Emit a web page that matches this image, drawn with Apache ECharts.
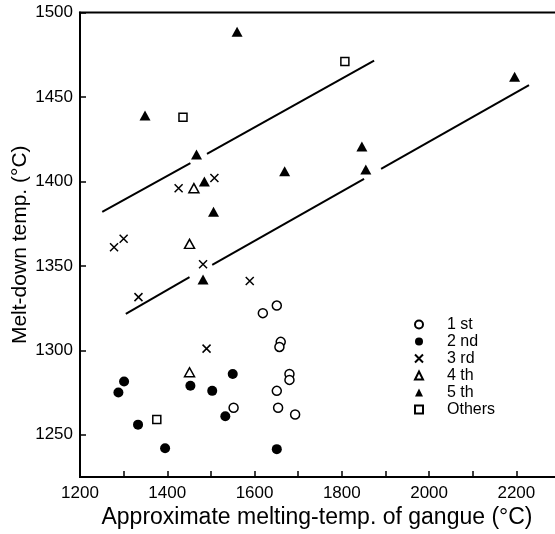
<!DOCTYPE html>
<html>
<head>
<meta charset="utf-8">
<script src="https://cdn.jsdelivr.net/npm/echarts@6/dist/echarts.min.js"></script>
<style>
    html, body { margin: 0; padding: 0; background: #fff; }
    #chart { width: 555px; height: 534px; }
</style>
</head>
<body>
<div id="chart"></div>
<script>
// readings: [melting temp of gangue, melt-down temp]
let first = [[1619, 1322], [1651, 1326.5], [1660, 1305], [1657, 1302], [1680, 1286], [1680, 1282.5],
    [1651, 1276], [1552, 1266], [1654, 1266], [1693, 1262]];
let second = [[1288, 1275], [1301, 1281.5], [1333, 1256], [1395, 1242], [1453, 1279], [1503, 1276],
    [1533, 1261], [1550, 1286], [1651, 1241.5]];
let third = [[1278, 1361], [1300, 1366], [1334, 1331.5], [1482, 1351], [1589, 1341], [1490, 1301],
    [1426, 1396], [1508, 1402]];
let fourth = [[1461, 1396], [1451, 1363], [1451, 1287]];
let fifth = [[1560, 1488.6], [1349, 1439], [1467, 1416], [1485, 1400], [1506, 1382], [1669, 1406],
    [1482, 1342], [1846, 1420.6], [1855, 1407], [2196, 1462]];
let others = [[1436, 1438], [1807, 1471], [1376, 1259]];

// the two drawn lines, broken where they pass a marker
let upperLine = [
    [[1251, 1382], [1453, 1410.8]],
    [[1491, 1416.3], [1874, 1471.5]]
];
let lowerLine = [
    [[1305, 1321.6], [1451, 1343.3]],
    [[1503, 1350.6], [1851, 1401.5]],
    [[1890, 1407.4], [2229, 1457]]
];

let legendNames = ['1 st', '2 nd', '3 rd', '4 th', '5 th', 'Others'];
let xTicks = [1300, 1400, 1500, 1600, 1700, 1800, 1900, 2000, 2100, 2200];
let xLabels = [1200, 1400, 1600, 1800, 2000, 2200];
let yTicks = [1250, 1300, 1350, 1400, 1450, 1500];

let font = 'Liberation Sans';
let crossPath = 'path://M0,0L10,10M0,10L10,0';

function pointSeries(name, data, symbol, size, fill, border) {
    return {
        name: name,
        type: 'scatter',
        data: data,
        symbol: symbol,
        symbolSize: size,
        itemStyle: { color: fill, borderColor: '#000', borderWidth: border, opacity: 1 },
        emphasis: { disabled: true },
        z: 3
    };
}

let series = [
    pointSeries('1 st', first, 'circle', 9, '#fff', 1.5),
    pointSeries('2 nd', second, 'circle', 10, '#000', 0),
    pointSeries('3 rd', third, crossPath, 8, '#000', 1.5),
    pointSeries('4 th', fourth, 'triangle', [10, 9], '#fff', 1.5),
    pointSeries('5 th', fifth, 'triangle', [11, 10], '#000', 0),
    pointSeries('Others', others, 'rect', 8, '#fff', 1.5)
];

upperLine.concat(lowerLine).forEach(function (seg) {
    series.push({
        type: 'line',
        data: seg,
        symbol: 'none',
        silent: true,
        lineStyle: { color: '#000', width: 2 },
        z: 2
    });
});

let plainNumber = function (v) { return String(v); };

let option = {
    animation: false,
    backgroundColor: '#fff',
    grid: {
        left: 80,
        top: 12.5,
        right: -5,
        bottom: 57,
        containLabel: false,
        outerBoundsMode: 'none',
        show: true,
        borderColor: '#000',
        borderWidth: 2
    },
    legend: {
        data: legendNames,
        orient: 'vertical',
        left: 414,
        top: 316,
        padding: 0,
        itemGap: 0,
        itemWidth: 8,
        itemHeight: 8,
        textStyle: { fontFamily: font, fontSize: 16, lineHeight: 17, color: '#000', padding: [0, 0, 0, 19] }
    },
    xAxis: {
        type: 'value',
        min: 1200,
        max: 2300,
        name: 'Approximate melting-temp. of gangue (°C)',
        nameLocation: 'middle',
        nameGap: 29,
        nameMoveOverlap: false,
        nameTextStyle: { fontFamily: font, fontSize: 23, color: '#000', padding: [0, 6, 0, 0] },
        axisLine: { lineStyle: { color: '#000', width: 2 } },
        axisTick: { inside: true, length: 6, customValues: xTicks, lineStyle: { color: '#000', width: 1.5 } },
        axisLabel: {
            margin: 8,
            fontFamily: font,
            fontSize: 17,
            color: '#000',
            customValues: xLabels,
            formatter: plainNumber
        },
        splitLine: { show: false }
    },
    yAxis: {
        type: 'value',
        min: 1225,
        max: 1500,
        name: 'Melt-down temp. (°C)',
        nameLocation: 'middle',
        nameGap: 49,
        nameMoveOverlap: false,
        nameTextStyle: { fontFamily: font, fontSize: 21, color: '#000' },
        axisLine: { lineStyle: { color: '#000', width: 2 } },
        axisTick: { inside: true, length: 6, customValues: yTicks, lineStyle: { color: '#000', width: 1.5 } },
        axisLabel: {
            margin: 7,
            fontFamily: font,
            fontSize: 17,
            color: '#000',
            customValues: yTicks,
            formatter: plainNumber
        },
        splitLine: { show: false }
    },
    series: series
};

let chart = echarts.init(document.getElementById('chart'));
chart.setOption(option);
</script>
</body>
</html>
